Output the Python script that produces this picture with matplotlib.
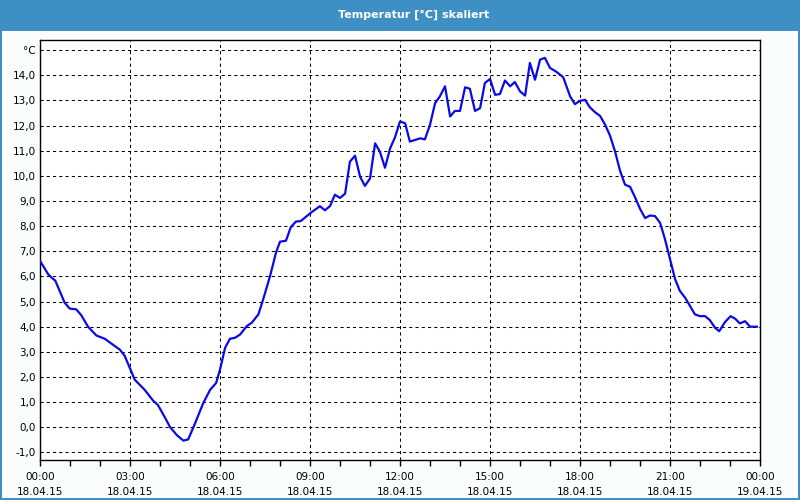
import matplotlib.pyplot as plt
from matplotlib.patches import Rectangle
from matplotlib.ticker import FixedLocator, MultipleLocator, FuncFormatter

# time in hours since 18.04.15 00:00, temperature in °C
hours = [0.0, 0.27, 0.38, 0.51, 0.82, 0.99, 1.21, 1.38, 1.60, 1.88, 2.16, 2.32, 2.66, 2.82,
         3.02, 3.16, 3.49, 3.77, 3.93, 4.21, 4.33, 4.56, 4.78, 4.94, 5.17, 5.44, 5.67, 5.87,
         6.00, 6.17, 6.33, 6.50, 6.67, 6.89, 7.06, 7.28, 7.44, 7.67, 7.87, 8.00, 8.20, 8.36,
         8.53, 8.69, 9.06, 9.33, 9.50, 9.67, 9.83, 10.00, 10.17, 10.33, 10.50, 10.67, 10.83,
         11.00, 11.17, 11.33, 11.50, 11.67, 11.83, 12.00, 12.17, 12.33, 12.56, 12.67, 12.83,
         13.00, 13.17, 13.33, 13.50, 13.67, 13.83, 14.00, 14.17, 14.33, 14.50, 14.67, 14.83,
         15.00, 15.17, 15.33, 15.50, 15.67, 15.83, 16.00, 16.17, 16.33, 16.50, 16.67, 16.83,
         17.00, 17.22, 17.44, 17.67, 17.83, 18.00, 18.17, 18.33, 18.50, 18.67, 18.83, 19.00,
         19.17, 19.33, 19.50, 19.67, 19.83, 20.00, 20.17, 20.33, 20.50, 20.67, 20.83, 21.00,
         21.17, 21.33, 21.50, 21.67, 21.83, 22.00, 22.17, 22.33, 22.50, 22.64, 22.83, 23.02,
         23.17, 23.33, 23.50, 23.67, 23.83, 23.90]
temps = [6.62, 6.09, 5.96, 5.83, 4.96, 4.72, 4.69, 4.45, 4.00, 3.65, 3.52, 3.38, 3.09, 2.85,
         2.29, 1.89, 1.49, 1.06, 0.89, 0.29, 0.02, -0.31, -0.53, -0.48, 0.16, 0.96, 1.49, 1.76,
         2.29, 3.16, 3.52, 3.56, 3.69, 4.02, 4.16, 4.49, 5.09, 6.02, 6.96, 7.38, 7.42, 7.96,
         8.18, 8.20, 8.56, 8.79, 8.63, 8.80, 9.25, 9.12, 9.29, 10.56, 10.80, 9.96, 9.60,
         9.89, 11.29, 10.96, 10.32, 11.09, 11.52, 12.16, 12.09, 11.36, 11.45, 11.49, 11.45,
         12.03, 12.89, 13.16, 13.56, 12.36, 12.58, 12.58, 13.52, 13.46, 12.58, 12.69, 13.69,
         13.85, 13.22, 13.25, 13.79, 13.56, 13.73, 13.36, 13.19, 14.49, 13.82, 14.62, 14.69,
         14.29, 14.13, 13.92, 13.16, 12.85, 12.98, 13.02, 12.72, 12.53, 12.38, 12.05, 11.60,
         10.96, 10.22, 9.65, 9.56, 9.16, 8.69, 8.32, 8.42, 8.40, 8.13, 7.49, 6.69,
         5.89, 5.42, 5.16, 4.82, 4.49, 4.42, 4.42, 4.26, 3.96, 3.82, 4.18, 4.42,
         4.32, 4.13, 4.22, 4.00, 4.00, 4.00]

xtick_pos = [0, 3, 6, 9, 12, 15, 18, 21, 24]
xtick_labels = ['00:00\n18.04.15', '03:00\n18.04.15', '06:00\n18.04.15', '09:00\n18.04.15',
                '12:00\n18.04.15', '15:00\n18.04.15', '18:00\n18.04.15', '21:00\n18.04.15',
                '00:00\n19.04.15']

blue = '#3d8fc4'
W, H = 800, 500

plt.rcParams['font.family'] = ['DejaVu Sans']
fig = plt.figure(figsize=(8, 5), dpi=100, facecolor='#fafdfc')

# window frame and title bar
fig.patches.append(Rectangle((0, 1 - 31 / H), 1, 31 / H, transform=fig.transFigure,
                             facecolor=blue, edgecolor='none', zorder=0))
for r in [(0, 0, 2 / W, 1), (1 - 2 / W, 0, 2 / W, 1), (0, 0, 1, 2 / H)]:
    fig.patches.append(Rectangle((r[0], r[1]), r[2], r[3], transform=fig.transFigure,
                                 facecolor=blue, edgecolor='none', zorder=0))
fig.text(414 / W, 1 - 15 / H, 'Temperatur [°C] skaliert', color='white', fontsize=8,
         fontweight='bold', ha='center', va='center')

ax = fig.add_axes([40 / W, 40 / H, 720 / W, 420 / H])
ax.set_facecolor('white')
ax.plot(hours, temps, color='#0a0ae6', lw=1.6, zorder=3)

ax.set_xlim(0, 24)
ax.set_ylim(-1.3, 15.4)
ax.xaxis.set_major_locator(FixedLocator(xtick_pos))
ax.set_xticklabels(xtick_labels, fontsize=7.5, linespacing=1.6)
ax.xaxis.set_minor_locator(MultipleLocator(1))
ax.yaxis.set_major_locator(MultipleLocator(1))
ax.yaxis.set_major_formatter(FuncFormatter(
    lambda v, p: '°C' if abs(v - 15) < 0.01 else f'{v:.1f}'.replace('.', ',')))

ax.tick_params(axis='x', which='both', direction='out', length=4, width=1, pad=5,
               colors='black')
ax.tick_params(axis='y', length=0, pad=3, labelsize=7.5)
ax.grid(True, which='major', color='black', lw=0.75, linestyle=(0, (3, 3)))
for s in ax.spines.values():
    s.set_linewidth(1)
    s.set_color('black')

plt.savefig('out.png', dpi=100, facecolor=fig.get_facecolor())
